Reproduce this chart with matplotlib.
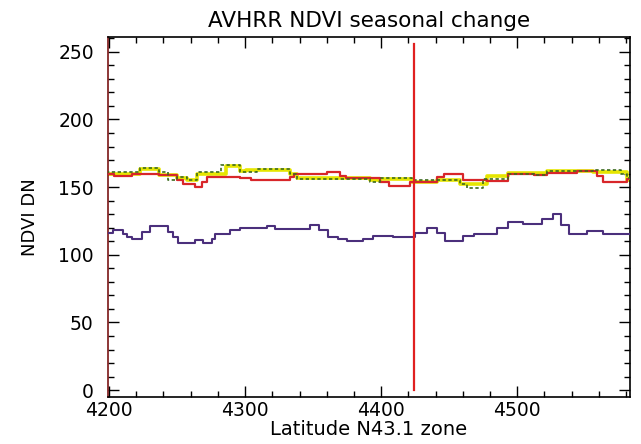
import matplotlib
matplotlib.use("Agg")
import matplotlib.pyplot as plt
from matplotlib.ticker import MultipleLocator

# ---- data (step series: breakpoints and levels) ----
red_x = [4198, 4204, 4217, 4237, 4250, 4254, 4263, 4268, 4272, 4296, 4304, 4333, 4336,
         4360, 4370, 4374, 4399, 4406, 4421, 4441, 4446, 4460, 4478, 4493, 4512, 4522,
         4544, 4559, 4563, 4581, 4590]
red_y = [160, 158, 160, 159, 155, 152.5, 150, 154, 157.8, 156.8, 155.5, 157.5, 160,
         161, 158.5, 156.5, 154, 150.5, 154, 157.8, 160, 155, 154.5, 160, 159, 160.7,
         162, 158, 154, 156, 156]

yellow_x = [4198, 4223, 4237, 4250, 4257, 4265, 4286, 4296, 4301, 4333, 4338, 4392, 4399,
            4423, 4441, 4458, 4478, 4493, 4522, 4556, 4581, 4590]
yellow_y = [160, 163.5, 159, 157, 155, 159.5, 165.7, 162, 163, 160, 156.8, 155.3, 156,
            154, 155.3, 152.5, 158, 160.7, 162, 161.3, 155.3, 155.3]

green_x = [4198, 4223, 4237, 4243, 4250, 4257, 4265, 4282, 4296, 4309, 4333, 4338, 4392,
           4399, 4423, 4458, 4463, 4475, 4493, 4512, 4522, 4556, 4576, 4581, 4590]
green_y = [161.5, 164, 161, 155, 157.8, 155, 161, 166, 161.5, 163.5, 160, 155.8, 154,
           156.5, 155, 152, 149, 155.8, 160, 159, 162, 162.5, 160, 157, 157]

purple_x = [4198, 4203, 4210, 4213, 4217, 4224, 4230, 4243, 4247, 4251, 4263, 4269, 4276,
            4278, 4289, 4296, 4316, 4322, 4348, 4354, 4361, 4368, 4375, 4387, 4394, 4409,
            4425, 4434, 4441, 4447, 4460, 4468, 4485, 4493, 4504, 4518, 4526, 4532, 4538,
            4551, 4563, 4590]
purple_y = [116, 118, 115, 113, 112, 117, 121.5, 117, 113, 108.5, 111, 108.5, 111.5,
            115, 118, 120, 121.5, 119, 122, 118, 113, 112, 110, 112, 114, 113,
            116, 120, 116, 110, 114, 115, 120, 124, 123, 126.5, 130, 122, 115,
            117.5, 115, 115]

marker_x = 4424
marker_y = [0, 256]

x_ticks = [4200, 4300, 4400, 4500]
y_ticks = [0, 50, 100, 150, 200, 250]

title = "AVHRR NDVI seasonal change"
xlabel = "Latitude N43.1 zone"
ylabel = "NDVI DN"

# ---- figure ----
fig = plt.figure(figsize=(6.41, 4.44), dpi=100)
ax = fig.add_axes([0.168, 0.106, 0.815, 0.811])

ax.step(yellow_x, yellow_y, where="post", color="#e6e600", lw=2.6, zorder=2)
ax.step(red_x, red_y, where="post", color="#d8262a", lw=1.6, zorder=3)
ax.step(green_x, green_y, where="post", color="#3d6b1e", lw=1.2, ls=(0, (2, 1.5)), zorder=4)
ax.step(purple_x, purple_y, where="post", color="#4b2f7c", lw=1.5, zorder=3)
ax.plot([marker_x, marker_x], marker_y, color="#e02020", lw=1.6, zorder=5)

ax.set_xlim(4199, 4583)
ax.set_ylim(-5, 261)
ax.set_xticks(x_ticks)
ax.set_yticks(y_ticks)
ax.xaxis.set_minor_locator(MultipleLocator(20))
ax.yaxis.set_minor_locator(MultipleLocator(10))
ax.tick_params(which="both", direction="in", top=True, right=True, labelsize=13.5,
               colors="black")
ax.tick_params(axis="y", pad=10)
ax.tick_params(axis="x", pad=3)
ax.tick_params(which="major", length=8, width=1)
ax.tick_params(which="minor", length=4, width=1)
for s in ax.spines.values():
    s.set_linewidth(1.2)
ax.spines["left"].set_color("#7a1515")

ax.set_title(title, fontsize=15.5, pad=7)
ax.set_xlabel(xlabel, fontsize=14, labelpad=0)
ax.set_ylabel(ylabel, fontsize=13, labelpad=14)

fig.savefig("out.png", dpi=100)
